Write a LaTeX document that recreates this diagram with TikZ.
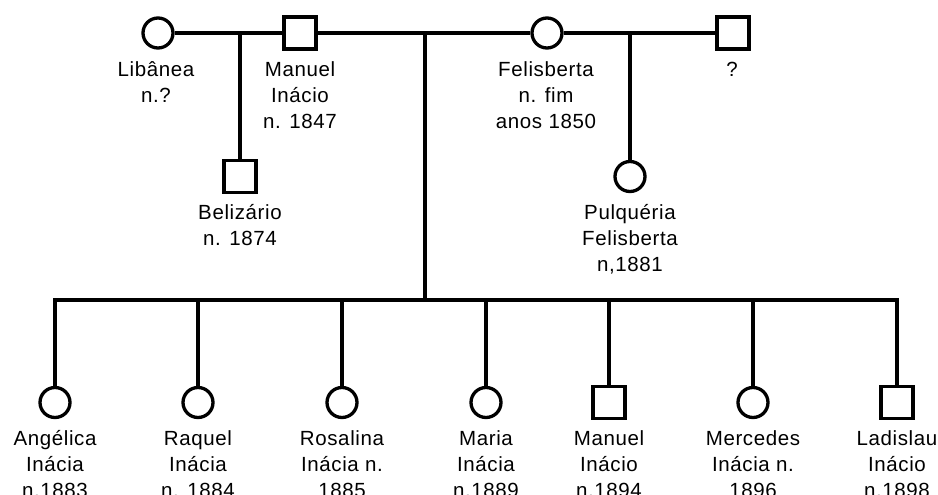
\documentclass[tikz,border=0pt]{standalone}
\usepackage{fontspec}
\setmainfont{Liberation Sans}[LetterSpace=3]
\newcommand\labstrut{\rule{0pt}{17pt}}
\begin{document}
\begin{tikzpicture}[x=1pt,y=-1pt,
  line width=3.7pt,
  fem/.style={circle,draw,line width=3.3pt,minimum size=30pt,inner sep=0pt,fill=white},
  mal/.style={rectangle,draw,line width=3.3pt,minimum size=32pt,inner sep=0pt,fill=white},
  lbl/.style={anchor=north,inner sep=0pt,align=center,font=\fontsize{20.5}{26}\selectfont}]
\useasboundingbox (0,0) rectangle (938,495);

% top generation
\node[fem] (lib) at (158,33) {};
\node[mal] (man) at (300,33) {};
\node[fem] (fel) at (547,33) {};
\node[mal] (unk) at (733,33) {};
\node[mal] (bel) at (240,176.5) {};
\node[fem] (pul) at (630,176.5) {};

\coordinate (jb) at (240,33);
\coordinate (jm) at (425,33);
\coordinate (jp) at (630,33);
\coordinate (bar) at (425,300);

\draw (lib) -- (man);
\draw (man) -- (fel);
\draw (fel) -- (unk);
\draw (jb) -- (bel.north);
\draw (jp) -- (pul.north);
\draw (jm) -- (bar);

% children
\node[fem] (c1) at (55,402.5) {};
\node[fem] (c2) at (198,402.5) {};
\node[fem] (c3) at (342,402.5) {};
\node[fem] (c4) at (486,402.5) {};
\node[mal] (c5) at (609,402.5) {};
\node[fem] (c6) at (753,402.5) {};
\node[mal] (c7) at (897,402.5) {};

\draw (c1.north) |- (c7.north |- bar) -- (c7.north);
\foreach \c in {c2,c3,c4,c5,c6} \draw (\c.north) -- (\c.north |- bar);

% labels
\node[lbl] (llib) at (156,57.5) {\labstrut Libânea\\n.?};
\node[lbl] (lman) at (300,57.5) {\labstrut Manuel\\Inácio\\n. 1847};
\node[lbl] (lfel) at (546,57.5) {\labstrut Felisberta\\n. fim\\anos 1850};
\node[lbl] (lunk) at (732,57.5) {\labstrut ?};
\node[lbl] (lbel) at (240,200.5) {\labstrut Belizário\\n. 1874};
\node[lbl] (lpul) at (630,200.5) {\labstrut Pulquéria\\Felisberta\\n,1881};

\node[lbl] (l1) at (55,426.5) {\labstrut Angélica\\Inácia\\n.1883};
\node[lbl] (l2) at (198,426.5) {\labstrut Raquel\\Inácia\\n. 1884};
\node[lbl] (l3) at (342,426.5) {\labstrut Rosalina\\Inácia n.\\1885};
\node[lbl] (l4) at (486,426.5) {\labstrut Maria\\Inácia\\n.1889};
\node[lbl] (l5) at (609,426.5) {\labstrut Manuel\\Inácio\\n.1894};
\node[lbl] (l6) at (753,426.5) {\labstrut Mercedes\\Inácia n.\\1896};
\node[lbl] (l7) at (897,426.5) {\labstrut Ladislau\\Inácio\\n.1898};
\end{tikzpicture}
\end{document}
